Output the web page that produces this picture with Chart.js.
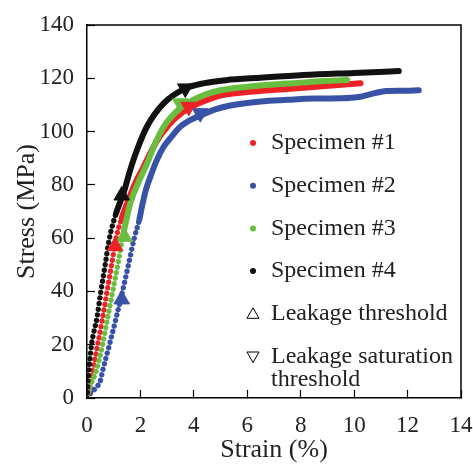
<!DOCTYPE html>
<html>
<head>
<meta charset="utf-8">
<script src="https://cdn.jsdelivr.net/npm/chart.js@4.4.1/dist/chart.umd.min.js"></script>
<style>
  html, body { margin: 0; padding: 0; background: #fff; }
  #wrap { width: 473px; height: 466px; }
</style>
</head>
<body>
<div id="wrap"><canvas id="grafico" width="473" height="466"></canvas></div>
<script>
// strain (%) / stress (MPa)
const strain1 = [0, 0.09, 0.21, 0.4, 0.58, 0.75, 0.92, 1.09, 1.3, 1.5, 1.8, 2.12, 2.45, 2.81, 3.3, 3.81, 4.4, 5.0, 6.2, 7.49, 8.8, 10.24];
const stress1 = [0, 3, 10, 20, 30, 40, 50, 60, 67.5, 73, 80.5, 86.8, 93.5, 99.4, 105, 108.8, 111.5, 113.5, 115, 116, 117, 118.1];

const strain2 = [0, 0.15, 0.35, 0.5, 0.58, 0.84, 1.09, 1.33, 1.55, 1.77, 1.96, 2.06, 2.2, 2.37, 2.6, 2.87, 3.2, 3.49, 3.9, 4.24, 4.8, 5.37, 6.5, 7.49, 8.5, 9.5, 10.24, 10.8, 11.2, 11.8, 12.42];
const stress2 = [0, 2, 4, 6.5, 10, 20, 30, 40, 50, 60, 67, 72, 78, 83, 89, 94.3, 98.5, 101.8, 104.5, 106, 108.3, 109.8, 111.3, 111.9, 112.4, 112.5, 113.1, 114.5, 115.2, 115.3, 115.5];

const strain3 = [0, 0.1, 0.34, 0.58, 0.77, 0.96, 1.15, 1.33, 1.62, 1.95, 2.25, 2.55, 2.87, 3.49, 4.2, 5.0, 6.2, 7.49, 8.6, 9.74];
const stress3 = [0, 4, 10, 20, 30, 40, 50, 60, 73, 81.5, 88, 95.5, 101.8, 108.8, 113, 115.5, 117, 118, 118.8, 119.4];

const strain4 = [0, 0.05, 0.17, 0.37, 0.52, 0.68, 0.84, 1.09, 1.37, 1.6, 1.85, 2.25, 2.87, 3.68, 4.4, 5.2, 6.5, 8.11, 10.0, 11.67];
const stress4 = [0, 8, 20, 30, 40, 50, 60, 69.4, 77, 85, 92.5, 102, 110.6, 116.2, 118.2, 119.3, 120.2, 121.2, 122, 122.7];

// leakage threshold (up triangles) and saturation threshold (down triangles), specimens #1..#4
const limiarStrain = [1.05, 1.30, 1.40, 1.30];
const limiarStress = [57, 37, 60.5, 76];
const saturStrain = [3.81, 4.24, 3.49, 3.68];
const saturStress = [109.3, 106.9, 110.6, 116.2];

const nomes = ["Specimen #1", "Specimen #2", "Specimen #3", "Specimen #4"];
const cores = ["#ec2227", "#3852a6", "#69bd3f", "#111111"];
const ordem = [3, 4, 2, 1];

const FONTE = '"Liberation Serif", "Times New Roman", serif';

function pares(xs, ys) {
  return xs.map((x, i) => ({ x, y: ys[i] }));
}

const series = [
  pares(strain1, stress1),
  pares(strain2, stress2),
  pares(strain3, stress3),
  pares(strain4, stress4)
];

const datasets = series.map((dados, i) => ({
  label: nomes[i],
  data: dados,
  borderColor: cores[i],
  backgroundColor: cores[i],
  borderWidth: 6,
  borderCapStyle: "round",
  borderJoinStyle: "round",
  pointRadius: 0,
  cubicInterpolationMode: "monotone",
  fill: false,
  order: ordem[i],
  // parte íngreme aparece como pontos separados
  segment: {
    borderDash: ctx => ctx.p1.parsed.y < 72 ? [0.01, 5.6] : undefined,
    borderWidth: ctx => ctx.p1.parsed.y < 72 ? 5.4 : undefined
  }
}));

for (let i = 0; i < 4; i++) {
  datasets.push({
    type: "scatter",
    label: "limiar-" + i,
    data: [{ x: limiarStrain[i], y: limiarStress[i] }],
    pointStyle: "triangle",
    pointRadius: 9,
    rotation: 0,
    backgroundColor: cores[i],
    borderColor: cores[i],
    borderWidth: 1,
    order: 0
  });
  datasets.push({
    type: "scatter",
    label: "saturacao-" + i,
    data: [{ x: saturStrain[i], y: saturStress[i] }],
    pointStyle: "triangle",
    pointRadius: 9,
    rotation: 180,
    backgroundColor: cores[i],
    borderColor: cores[i],
    borderWidth: 1,
    order: 0
  });
}

// moldura completa da área do gráfico
const moldura = {
  id: "moldura",
  afterDraw(chart) {
    const { ctx, chartArea: a } = chart;
    ctx.save();
    ctx.strokeStyle = "#000";
    ctx.lineWidth = 1.5;
    ctx.beginPath();
    ctx.moveTo(a.left, a.top);
    ctx.lineTo(a.right, a.top);
    ctx.lineTo(a.right, a.bottom);
    ctx.stroke();
    ctx.restore();
  }
};

// legenda dentro da área
const legenda = {
  id: "legenda",
  afterDraw(chart) {
    const { ctx, chartArea: a } = chart;
    const xTexto = a.left + 184;
    const xIcone = a.left + 166;
    const yBase = a.bottom - 255;
    const passo = 42.7;
    ctx.save();
    ctx.font = "24px " + FONTE;
    ctx.textBaseline = "middle";
    nomes.forEach((nome, i) => {
      const y = yBase + passo * i;
      ctx.beginPath();
      ctx.fillStyle = cores[i];
      ctx.arc(xIcone, y, 3, 0, Math.PI * 2);
      ctx.fill();
      ctx.fillStyle = "#222";
      ctx.fillText(nome, xTexto, y);
    });
    const h = Chart.helpers;
    ctx.strokeStyle = "#000";
    const yL = yBase + passo * 4;
    ctx.fillStyle = "#fff";
    h.drawPoint(ctx, { pointStyle: "triangle", radius: 7, rotation: 0, borderWidth: 1.3 }, xIcone, yL + 1);
    ctx.fillStyle = "#222";
    ctx.fillText("Leakage threshold", xTexto, yL);
    const yS = yBase + passo * 5;
    ctx.fillStyle = "#fff";
    h.drawPoint(ctx, { pointStyle: "triangle", radius: 7, rotation: 180, borderWidth: 1.3 }, xIcone, yS - 1);
    ctx.fillStyle = "#222";
    ctx.fillText("Leakage saturation", xTexto, yS);
    ctx.fillText("threshold", xTexto, yS + 23.5);
    ctx.restore();
  }
};

new Chart(document.getElementById("grafico").getContext("2d"), {
  type: "line",
  data: { datasets },
  options: {
    responsive: false,
    animation: false,
    devicePixelRatio: 1,
    layout: { padding: { left: 0, right: 12, top: 25, bottom: 0 } },
    plugins: {
      legend: { display: false },
      tooltip: { enabled: false }
    },
    scales: {
      x: {
        type: "linear",
        min: 0,
        max: 14,
        ticks: {
          stepSize: 2,
          color: "#222",
          font: { family: FONTE, size: 23 },
          padding: 22,
          maxRotation: 0
        },
        grid: { drawOnChartArea: false, tickLength: -8, color: "#000", tickWidth: 1.2 },
        border: { color: "#000", width: 1.5 },
        title: {
          display: true,
          text: "Strain (%)",
          color: "#222",
          font: { family: FONTE, size: 26 },
          padding: { top: 0, bottom: 0 }
        },
        afterFit: s => {
          s.height = 68;
          s.paddingLeft = 0;
          s.paddingRight = 0;
        }
      },
      y: {
        min: 0,
        max: 140,
        ticks: {
          stepSize: 20,
          color: "#222",
          font: { family: FONTE, size: 23 },
          padding: 21
        },
        grid: { drawOnChartArea: false, tickLength: -8, color: "#000", tickWidth: 1.2 },
        border: { color: "#000", width: 1.5 },
        title: {
          display: true,
          text: "Stress (MPa)",
          color: "#222",
          font: { family: FONTE, size: 26 },
          padding: { top: 12, bottom: 0 }
        },
        afterFit: s => {
          s.width = 87;
          s.paddingTop = 0;
          s.paddingBottom = 0;
        }
      }
    }
  },
  plugins: [moldura, legenda]
});
</script>
</body>
</html>
